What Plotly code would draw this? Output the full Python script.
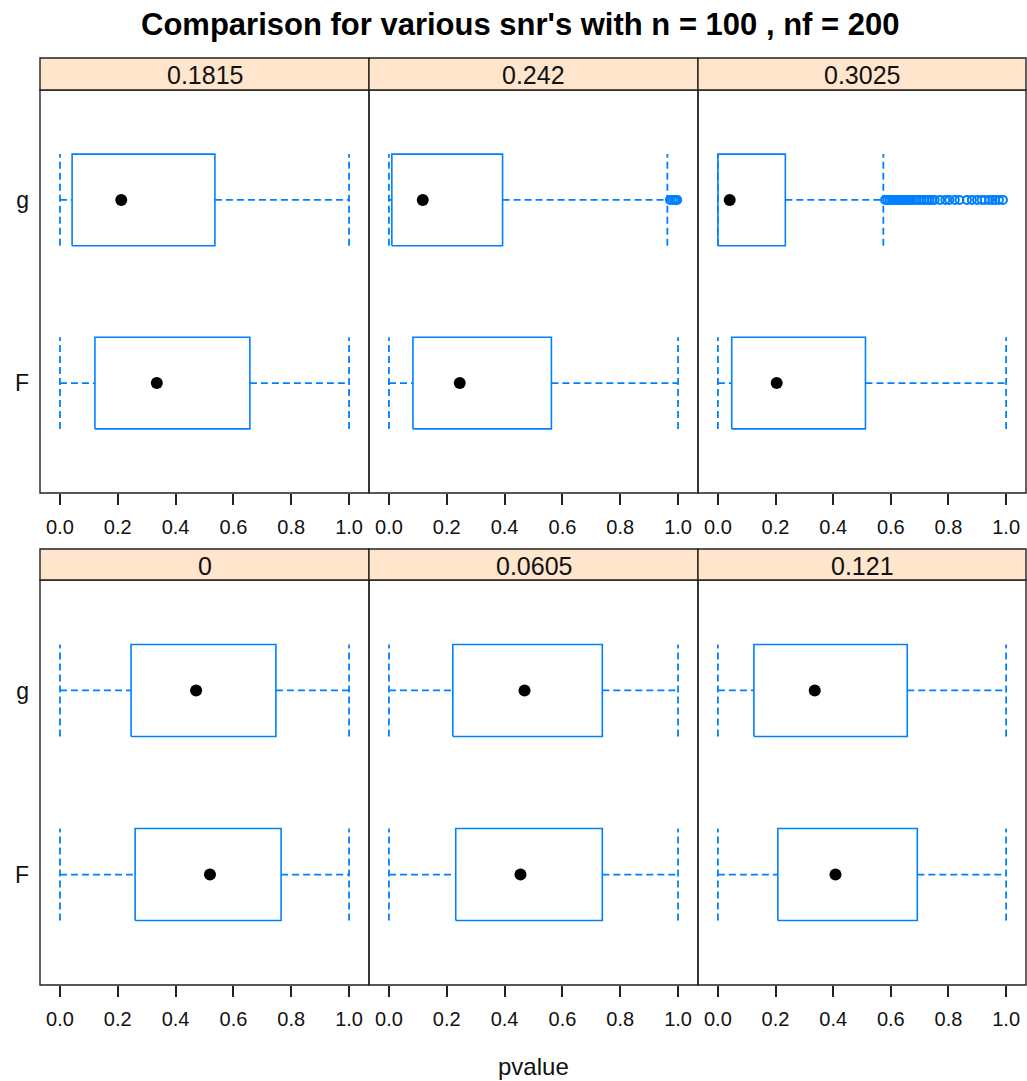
import plotly.graph_objects as go

# Signal-to-noise ratios, one panel each
snr_labels = ["0", "0.0605", "0.121", "0.1815", "0.242", "0.3025"]

# Five-number summaries of the p-values for the two tests
g_lower = [0.0, 0.0, 0.0, 0.0, 0.0, 0.0]
g_q1 = [0.246, 0.221, 0.125, 0.042, 0.010, 0.0]
g_median = [0.471, 0.469, 0.336, 0.212, 0.117, 0.041]
g_q3 = [0.747, 0.738, 0.657, 0.536, 0.393, 0.234]
g_upper = [1.0, 1.0, 1.0, 1.0, 0.963, 0.574]

F_lower = [0.0, 0.0, 0.0, 0.0, 0.0, 0.0]
F_q1 = [0.260, 0.231, 0.208, 0.121, 0.083, 0.048]
F_median = [0.519, 0.455, 0.408, 0.335, 0.245, 0.204]
F_q3 = [0.765, 0.738, 0.692, 0.657, 0.562, 0.512]
F_upper = [1.0, 1.0, 1.0, 1.0, 1.0, 1.0]

# Outlying p-values of g beyond the upper whisker
g_outliers = [
    [], [], [], [],
    [0.972, 0.981, 0.988, 0.993, 0.997],
    [0.580, 0.588, 0.596, 0.604, 0.611, 0.619, 0.626, 0.633, 0.641, 0.649,
     0.657, 0.664, 0.672, 0.680, 0.689, 0.697, 0.706, 0.715, 0.724, 0.733,
     0.742, 0.752, 0.771, 0.789, 0.803, 0.822, 0.838, 0.864, 0.881, 0.899,
     0.915, 0.926, 0.941, 0.953, 0.962, 0.975, 0.989],
]

group_labels = ["F", "g"]
x_ticks = [0.0, 0.2, 0.4, 0.6, 0.8, 1.0]
x_ticktext = ["0.0", "0.2", "0.4", "0.6", "0.8", "1.0"]

BLUE = "#0080ff"
STRIP_BG = "#ffe5cc"
FRAME = "#222222"
FONT = "Liberation Sans, Arial, sans-serif"
W, H = 1027, 1081

# panel pixel geometry (lattice layout: 3 columns x 2 rows)
col_px = [(40, 369), (369, 698), (698, 1026)]
row_px = [(90, 493), (580, 985)]          # top row, bottom row (panel)
strip_px = [(58, 90), (549, 580)]         # strip above each row
# which snr index goes in (row, col)
panel_order = [[3, 4, 5], [0, 1, 2]]

HALF = 0.25  # half height of box in category units

fig = go.Figure()
layout = dict(
    width=W, height=H, margin=dict(l=0, r=0, t=0, b=0),
    paper_bgcolor="white", plot_bgcolor="white", showlegend=False,
    font=dict(family=FONT, color="black"),
)
shapes = []
annotations = []


def px2fx(p):
    return p / W


def py2fy(p):
    return (H - p) / H


ax_n = 0
for r in range(2):
    for c in range(3):
        ax_n += 1
        k = panel_order[r][c]
        xa = "x" if ax_n == 1 else f"x{ax_n}"
        ya = "y" if ax_n == 1 else f"y{ax_n}"
        xkey = "xaxis" if ax_n == 1 else f"xaxis{ax_n}"
        ykey = "yaxis" if ax_n == 1 else f"yaxis{ax_n}"

        stats = {
            "g": (g_lower[k], g_q1[k], g_median[k], g_q3[k], g_upper[k], g_outliers[k], 2),
            "F": (F_lower[k], F_q1[k], F_median[k], F_q3[k], F_upper[k], [], 1),
        }
        for name, (lo, q1, med, q3, hi, outs, yv) in stats.items():
            # box
            fig.add_trace(go.Scatter(
                x=[q1, q3, q3, q1, q1],
                y=[yv - HALF, yv - HALF, yv + HALF, yv + HALF, yv - HALF],
                mode="lines", line=dict(color=BLUE, width=1.6),
                xaxis=xa, yaxis=ya, hoverinfo="skip"))
            # whiskers and caps (dashed)
            fig.add_trace(go.Scatter(
                x=[lo, q1, None, q3, hi, None, lo, lo, None, hi, hi],
                y=[yv, yv, None, yv, yv, None, yv - HALF, yv + HALF, None, yv - HALF, yv + HALF],
                mode="lines", line=dict(color=BLUE, width=1.8, dash="7px,4px"),
                xaxis=xa, yaxis=ya, hoverinfo="skip"))
            # outliers
            if outs:
                fig.add_trace(go.Scatter(
                    x=outs, y=[yv] * len(outs), mode="markers",
                    marker=dict(symbol="circle-open", size=8, color=BLUE,
                                line=dict(width=2, color=BLUE)),
                    xaxis=xa, yaxis=ya, hoverinfo="skip"))
            # median dot
            fig.add_trace(go.Scatter(
                x=[med], y=[yv], mode="markers",
                marker=dict(symbol="circle", size=12, color="black"),
                xaxis=xa, yaxis=ya, hoverinfo="skip"))

        x0, x1 = col_px[c]
        y0, y1 = row_px[r]
        layout[xkey] = dict(
            domain=[px2fx(x0), px2fx(x1)], anchor=ya, range=[-0.069, 1.069],
            tickvals=x_ticks, ticktext=x_ticktext, ticks="outside", ticklen=11,
            tickwidth=1.5, tickcolor=FRAME, showline=False, showgrid=False,
            zeroline=False, tickfont=dict(family=FONT, size=20, color="#111"),
            ticklabelstandoff=5, fixedrange=True,
        )
        layout[ykey] = dict(
            domain=[py2fy(y1), py2fy(y0)], anchor=xa, range=[0.4, 2.6],
            tickvals=[1, 2], ticktext=group_labels, showticklabels=(c == 0),
            ticks="", showline=False, showgrid=False, zeroline=False,
            tickfont=dict(family=FONT, size=23, color="#111"),
            ticklabelstandoff=10, fixedrange=True,
        )

        # panel frame
        shapes.append(dict(
            type="rect", xref="paper", yref="paper",
            x0=px2fx(x0), x1=px2fx(x1), y0=py2fy(y1), y1=py2fy(y0),
            line=dict(color=FRAME, width=1.4), layer="above"))
        # strip with the snr value
        sy0, sy1 = strip_px[r]
        shapes.append(dict(
            type="rect", xref="paper", yref="paper",
            x0=px2fx(x0), x1=px2fx(x1), y0=py2fy(sy1), y1=py2fy(sy0),
            fillcolor=STRIP_BG, line=dict(color=FRAME, width=1.4), layer="above"))
        annotations.append(dict(
            x=px2fx((x0 + x1) / 2), y=py2fy((sy0 + sy1) / 2 + 1), xref="paper", yref="paper",
            text=snr_labels[k], showarrow=False, xanchor="center", yanchor="middle",
            font=dict(family=FONT, size=25, color="#111")))

annotations.append(dict(
    x=px2fx(520), y=py2fy(24), xref="paper", yref="paper",
    text="<b>Comparison for various snr's with n = 100 , nf = 200</b>",
    showarrow=False, xanchor="center", yanchor="middle",
    font=dict(family=FONT, size=31, color="black")))
annotations.append(dict(
    x=px2fx(533), y=py2fy(1066), xref="paper", yref="paper",
    text="pvalue", showarrow=False, xanchor="center", yanchor="middle",
    font=dict(family=FONT, size=24, color="#111")))

layout["shapes"] = shapes
layout["annotations"] = annotations
fig.update_layout(**layout)

fig.write_html("out.html")
